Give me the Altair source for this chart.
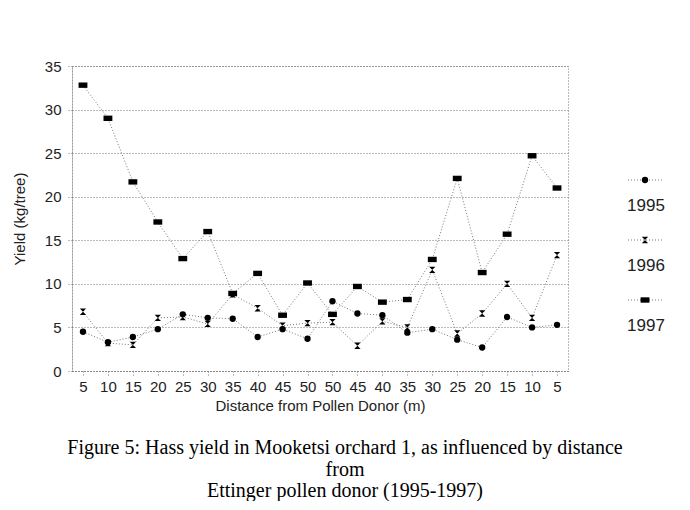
import altair as alt
import pandas as pd

distances = ["5", "10", "15", "20", "25", "30", "35", "40", "45", "50",
             "50", "45", "40", "35", "30", "25", "20", "15", "10", "5"]
years = ["1995", "1996", "1997"]
y1995 = [4.5, 3.3, 3.9, 4.8, 6.5, 6.1, 6.0, 3.9, 4.8, 3.7,
         8.0, 6.6, 6.4, 4.4, 4.8, 3.6, 2.7, 6.2, 5.0, 5.3]
y1996 = [6.8, 3.2, 3.0, 6.1, 6.2, 5.4, 8.8, 7.2, 5.2, 5.5,
         5.6, 2.9, 5.7, 5.0, 11.6, 4.3, 6.6, 10.0, 6.1, 13.3]
y1997 = [32.8, 29.0, 21.7, 17.1, 12.9, 16.0, 8.9, 11.2, 6.4, 10.1,
         6.5, 9.7, 7.9, 8.2, 12.8, 22.1, 11.3, 15.7, 24.7, 21.0]
y_ticks = [0, 5, 10, 15, 20, 25, 30, 35]
caption = ["Figure 5: Hass yield in Mooketsi orchard 1, as influenced by distance",
           "from",
           "Ettinger pollen donor (1995-1997)"]

rows = []
for i, d in enumerate(distances):
    for yr, vals in zip(years, [y1995, y1996, y1997]):
        rows.append({"idx": i, "dist": d, "year": yr, "yield": vals[i]})
df = pd.DataFrame(rows)
leg_df = pd.DataFrame({"year": years})

shape_range = ["circle", "M-1,-1L1,-1L-1,1L1,1Z", "M-1.4,-0.85H1.4V0.85H-1.4Z"]
shape_scale = alt.Scale(domain=years, range=shape_range)
label_expr = "[" + ",".join(f"'{d}'" for d in distances) + "][datum.value]"

SANS = "Liberation Sans"
x_enc = alt.X("idx:O", scale=alt.Scale(type="point", padding=0.44),
              axis=alt.Axis(title="Distance from Pollen Donor (m)", labelExpr=label_expr,
                            labelAngle=0, labelFontSize=15, titleFontSize=15,
                            labelFont=SANS, titleFont=SANS, titleFontWeight="normal",
                            labelColor="#222", titleColor="#222", tickSize=5,
                            labelPadding=3, titlePadding=4))
y_enc = alt.Y("yield:Q", scale=alt.Scale(domain=[0, 35], nice=False),
              axis=alt.Axis(title="Yield (kg/tree)", values=y_ticks, grid=True,
                            labelFontSize=15, titleFontSize=15, labelFont=SANS,
                            titleFont=SANS, titleFontWeight="normal",
                            labelColor="#222", titleColor="#222", tickSize=4,
                            labelPadding=7, titlePadding=17))

lines = alt.Chart(df).mark_line(strokeDash=[1, 2], color="#777", strokeWidth=1).encode(
    x=x_enc, y=y_enc, detail="year:N")
points = alt.Chart(df).mark_point(filled=True, color="black", opacity=1, size=40).encode(
    x=x_enc, y=y_enc, shape=alt.Shape("year:N", scale=shape_scale, legend=None))
main = alt.layer(lines, points)

leg_y = alt.Y("year:N", scale=alt.Scale(type="point", domain=years, range=[114, 234], padding=0),
              axis=None)
leg_rule = alt.Chart(leg_df).mark_rule(strokeDash=[1, 2], color="#777").encode(
    x=alt.value(556), x2=alt.value(590), y=leg_y)
leg_pt = alt.Chart(leg_df).mark_point(filled=True, color="black", opacity=1, size=40).encode(
    x=alt.value(573), y=leg_y, shape=alt.Shape("year:N", scale=shape_scale, legend=None))
leg_txt = alt.Chart(leg_df).mark_text(dy=26, font=SANS, fontSize=17, color="#222").encode(
    x=alt.value(574), y=leg_y, text="year:N")
legend = alt.layer(leg_rule, leg_pt, leg_txt)

chart = alt.layer(main, legend).resolve_scale(y="independent").properties(
    width=496, height=305,
    autosize=alt.AutoSizeParams(type="none"),
    padding={"left": 64, "top": 58, "right": 110, "bottom": 130},
    title=alt.TitleParams(text=caption, orient="bottom", anchor="middle", frame="group",
                          dx=25, offset=25, font="Liberation Serif", fontSize=20,
                          fontWeight="normal", lineHeight=21.5, color="black"),
).configure_view(stroke="#777", strokeDash=[1, 2]).configure_axis(
    domainColor="#777", domainDash=[1, 2], gridColor="#777", gridDash=[1, 2],
    tickColor="#777", tickDash=[1, 2], gridOpacity=1
)

chart.save("out.html", embed_options={"renderer": "svg", "actions": False})
